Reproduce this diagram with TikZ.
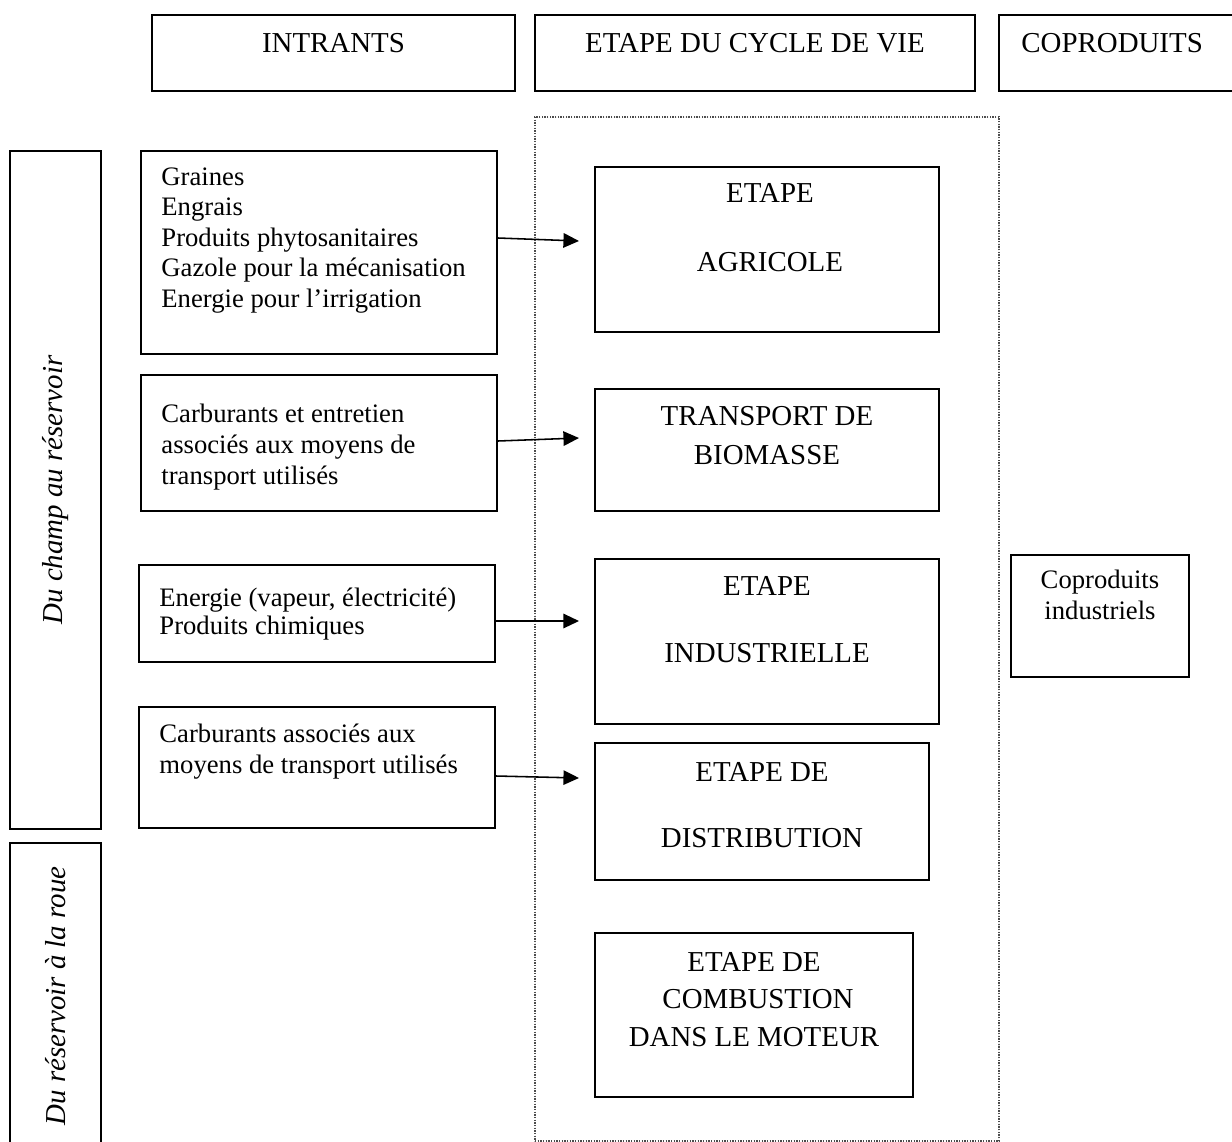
\documentclass[tikz,border=0pt]{standalone}
\usepackage{fontspec}
\setmainfont{Liberation Serif}
\usetikzlibrary{arrows.meta,fit,calc}
\begin{document}
\begin{tikzpicture}[x=0.45pt,y=-0.45pt,
  box/.style={draw, line width=0.9pt, inner sep=0pt},
  big/.style={font=\fontsize{13}{15}\selectfont, inner sep=0pt, anchor=base},
  small/.style={font=\fontsize{12}{14}\selectfont, inner sep=0pt, anchor=base west},
  smallc/.style={font=\fontsize{12}{14}\selectfont, inner sep=0pt, anchor=base},
  side/.style={font=\fontsize{13}{15}\selectfont\itshape, rotate=90, inner sep=0pt},
  arr/.style={line width=0.7pt, -{Triangle[length=7pt,width=6.5pt]}},
  frame/.style={draw, gray!60!black, line width=0.6pt, dash pattern=on 0.6pt off 0.6pt, inner sep=0pt}]
\useasboundingbox (0,0) rectangle (1232,1142);

% headers
\node[box, fit={(152,15) (515,91)}] (hin) {};
\node[big] (hint) at (333.5,52) {INTRANTS};
\node[box, fit={(535,15) (975,91)}] (hcy) {};
\node[big] (hcyt) at (755,52) {ETAPE DU CYCLE DE VIE};
\node[box, fit={(999,15) (1260,91)}] (hco) {};
\node[big, anchor=base west] (hcot) at (1021,52) {COPRODUITS};

% dotted frame
\node[frame, fit={(535,117) (999,1141)}] (cyc) {};

% side boxes
\node[box, fit={(10,151) (101,829)}] (p1) {};
\node[side] (p1t) at (55.5,490) {Du champ au réservoir};
\node[box, fit={(10,843) (101,1170)}] (p2) {};
\node[side] (p2t) at (55.5,996) {Du réservoir à la roue};

% intrants
\node[box, fit={(141,151) (497,354)}] (g1) {};
\node[small] (g1a) at (161,185) {Graines};
\node[small] (g1b) at (161,215.5) {Engrais};
\node[small] (g1c) at (161,246) {Produits phytosanitaires};
\node[small] (g1d) at (161,276.5) {Gazole pour la mécanisation};
\node[small] (g1e) at (161,307) {Energie pour l’irrigation};

\node[box, fit={(141,375) (497,511)}] (g2) {};
\node[small] (g2a) at (161,422) {Carburants et entretien};
\node[small] (g2b) at (161,453) {associés aux moyens de};
\node[small] (g2c) at (161,484) {transport utilisés};

\node[box, fit={(139,565) (495,662)}] (g3) {};
\node[small] (g3a) at (159,606) {Energie (vapeur, électricité)};
\node[small] (g3b) at (159,634) {Produits chimiques};

\node[box, fit={(139,707) (495,828)}] (g4) {};
\node[small] (g4a) at (159,742) {Carburants associés aux};
\node[small] (g4b) at (159,773) {moyens de transport utilisés};

% stages
\node[box, fit={(595,167) (939,332)}] (s1) {};
\node[big] (s1a) at (770,202) {ETAPE};
\node[big] (s1b) at (770,271) {AGRICOLE};

\node[box, fit={(595,389) (939,511)}] (s2) {};
\node[big] (s2a) at (767,425) {TRANSPORT DE};
\node[big] (s2b) at (767,464) {BIOMASSE};

\node[box, fit={(595,559) (939,724)}] (s3) {};
\node[big] (s3a) at (767,595) {ETAPE};
\node[big] (s3b) at (767,662) {INDUSTRIELLE};

\node[box, fit={(595,743) (929,880)}] (s4) {};
\node[big] (s4a) at (762,781) {ETAPE DE};
\node[big] (s4b) at (762,847) {DISTRIBUTION};

\node[box, fit={(595,933) (913,1097)}] (s5) {};
\node[big] (s5a) at (754,971) {ETAPE DE};
\node[big] (s5b) at (758,1008) {COMBUSTION};
\node[big] (s5c) at (754,1046) {DANS LE MOTEUR};

% coproduits
\node[box, fit={(1011,555) (1189,677)}] (c1) {};
\node[smallc] (c1a) at (1100,588) {Coproduits};
\node[smallc] (c1b) at (1100,619) {industriels};

% arrows
\draw[arr] ($(g1.east)+(0,-14.5)$) -- ($(s1.west)+(-15,-8.5)$);
\draw[arr] ($(g2.east)+(0,-2)$) -- ($(s2.west)+(-15,-12)$);
\draw[arr] ($(g3.east)+(0,7.5)$) -- ($(s3.west)+(-15,-20.5)$);
\draw[arr] ($(g4.east)+(0,8.5)$) -- ($(s4.west)+(-15,-33.5)$);
\end{tikzpicture}
\end{document}
